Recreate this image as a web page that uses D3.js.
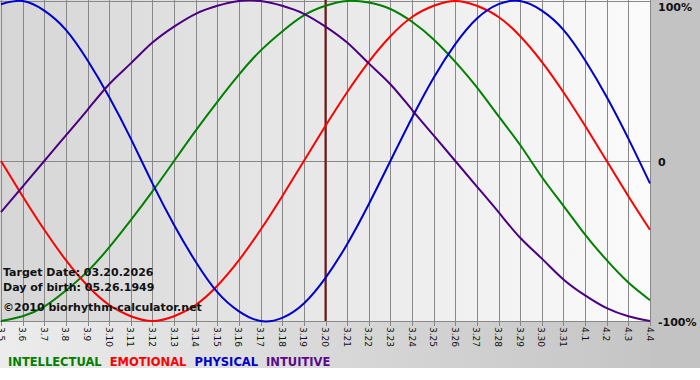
<!DOCTYPE html>
<html>
<head>
<meta charset="utf-8">
<script src="https://cdn.jsdelivr.net/npm/d3@7"></script>
<style>
  body { margin: 0; background: #fff; }
  svg { display: block; }
  text { font-family: "DejaVu Sans", Verdana, sans-serif; }
</style>
</head>
<body>
<div id="chart"></div>
<script>
// day labels along the bottom
const days = ['3.5', '3.6', '3.7', '3.8', '3.9', '3.10', '3.11', '3.12', '3.13', '3.14', '3.15',
  '3.16', '3.17', '3.18', '3.19', '3.20', '3.21', '3.22', '3.23', '3.24', '3.25', '3.26',
  '3.27', '3.28', '3.29', '3.30', '3.31', '4.1', '4.2', '4.3', '4.4'];

// cycle values per day, -1..1
const physical = [0.98, 1.00, 0.94, 0.82, 0.63, 0.40, 0.14, -0.14, -0.40, -0.63, -0.82,
  -0.94, -1.00, -0.98, -0.89, -0.73, -0.52, -0.27, 0.00, 0.27, 0.52,
  0.73, 0.89, 0.98, 1.00, 0.94, 0.82, 0.63, 0.40, 0.14, -0.14];
const emotional = [0.00, -0.22, -0.43, -0.62, -0.78, -0.90, -0.97, -1.00, -0.97, -0.90, -0.78,
  -0.62, -0.43, -0.22, 0.00, 0.22, 0.43, 0.62, 0.78, 0.90, 0.97,
  1.00, 0.97, 0.90, 0.78, 0.62, 0.43, 0.22, 0.00, -0.22, -0.43];
const intellectual = [-1.00, -0.97, -0.91, -0.81, -0.69, -0.54, -0.37, -0.19, 0.00, 0.19, 0.37,
  0.54, 0.69, 0.81, 0.91, 0.97, 1.00, 0.99, 0.95, 0.87, 0.76,
  0.62, 0.46, 0.28, 0.10, -0.10, -0.28, -0.46, -0.62, -0.76, -0.87];
const intuitive = [-0.32, -0.16, 0.00, 0.16, 0.32, 0.48, 0.61, 0.74, 0.84, 0.92, 0.97,
  1.00, 1.00, 0.97, 0.92, 0.84, 0.74, 0.61, 0.48, 0.32, 0.16,
  0.00, -0.16, -0.32, -0.48, -0.61, -0.74, -0.84, -0.92, -0.97, -1.00];

const targetDay = '3.20';
const infoLines = ['Target Date: 03.20.2026', 'Day of birth: 05.26.1949', '\u00a92010 biorhythm-calculator.net'];
const yLabels = [{ v: 1, t: '100%' }, { v: 0, t: '0' }, { v: -1, t: '-100%' }];

const series = [
  { name: 'INTELLECTUAL', values: intellectual, color: '#008000' },
  { name: 'EMOTIONAL', values: emotional, color: '#ff0000' },
  { name: 'PHYSICAL', values: physical, color: '#0000cc' },
  { name: 'INTUITIVE', values: intuitive, color: '#4b0082' }
];

const width = 700, height = 380;
const plot = { left: 0, right: 650, top: 1, bottom: 321 };

const x = d3.scaleLinear().domain([0, days.length - 1]).range([1, plot.right]);
const y = d3.scaleLinear().domain([-1, 1]).range([plot.bottom, plot.top]);

const svg = d3.select('#chart').append('svg')
  .attr('width', width)
  .attr('height', height);

const defs = svg.append('defs');
const g1 = defs.append('linearGradient').attr('id', 'plotBg');
g1.append('stop').attr('offset', '0%').attr('stop-color', '#d6d6d6');
g1.append('stop').attr('offset', '100%').attr('stop-color', '#fbfbfb');
const g2 = defs.append('linearGradient').attr('id', 'bandBg');
g2.append('stop').attr('offset', '0%').attr('stop-color', '#ececec');
g2.append('stop').attr('offset', '100%').attr('stop-color', '#c2c2c2');

// backgrounds
svg.append('rect').attr('x', 0).attr('y', 0).attr('width', width).attr('height', 368)
  .attr('fill', 'url(#bandBg)');
svg.append('rect').attr('x', plot.right).attr('y', 0).attr('width', width - plot.right).attr('height', 368)
  .attr('fill', '#c3c3c3');
svg.append('rect').attr('x', 0).attr('y', 0).attr('width', plot.right).attr('height', plot.bottom)
  .attr('fill', 'url(#plotBg)');

// vertical grid + ticks
svg.append('g').selectAll('line')
  .data(days)
  .join('line')
  .attr('x1', (d, i) => Math.round(x(i)) + 0.5)
  .attr('x2', (d, i) => Math.round(x(i)) + 0.5)
  .attr('y1', 0)
  .attr('y2', plot.bottom + 5)
  .attr('stroke', '#888')
  .attr('stroke-width', 1);

// horizontal lines
svg.append('g').selectAll('line')
  .data(yLabels)
  .join('line')
  .attr('x1', 0)
  .attr('x2', plot.right + 1)
  .attr('y1', d => Math.round(y(d.v)) + 0.5)
  .attr('y2', d => Math.round(y(d.v)) + 0.5)
  .attr('stroke', '#888');

// target date marker
const ti = days.indexOf(targetDay);
svg.append('line')
  .attr('x1', x(ti)).attr('x2', x(ti))
  .attr('y1', 0).attr('y2', plot.bottom)
  .attr('stroke', '#7a1010')
  .attr('stroke-width', 2);

// curves
const line = d3.line()
  .x((d, i) => x(i))
  .y(d => y(d))
  .curve(d3.curveNatural);

svg.append('g').selectAll('path')
  .data(series)
  .join('path')
  .attr('fill', 'none')
  .attr('stroke', d => d.color)
  .attr('stroke-width', 2)
  .attr('d', d => line(d.values));

// day labels, rotated
svg.append('g').selectAll('text')
  .data(days)
  .join('text')
  .attr('transform', (d, i) => 'translate(' + (x(i) - 3.5) + ',' + (plot.bottom + 6) + ') rotate(90)')
  .attr('font-size', 9)
  .attr('fill', '#111')
  .text(d => d);

// right side labels
svg.append('g').selectAll('text')
  .data(yLabels)
  .join('text')
  .attr('x', 658)
  .attr('y', d => d.v === 1 ? 11 : y(d.v) + 5)
  .attr('font-size', 11)
  .attr('font-weight', 'bold')
  .attr('fill', '#111')
  .text(d => d.t);

// info text
svg.append('g').selectAll('text')
  .data(infoLines)
  .join('text')
  .attr('x', 3)
  .attr('y', (d, i) => [276, 291, 311][i])
  .attr('font-size', 11)
  .attr('font-weight', 'bold')
  .attr('fill', '#111')
  .text(d => d);

// legend
const legend = svg.append('text')
  .attr('x', 8)
  .attr('y', 366)
  .attr('font-size', 11.5)
  .attr('font-weight', 'bold');
series.forEach((s, i) => {
  legend.append('tspan')
    .attr('fill', s.color === '#4b0082' ? '#5a0a8a' : s.color)
    .attr('dx', i === 0 ? 0 : 8)
    .text(s.name);
});
</script>
</body>
</html>
